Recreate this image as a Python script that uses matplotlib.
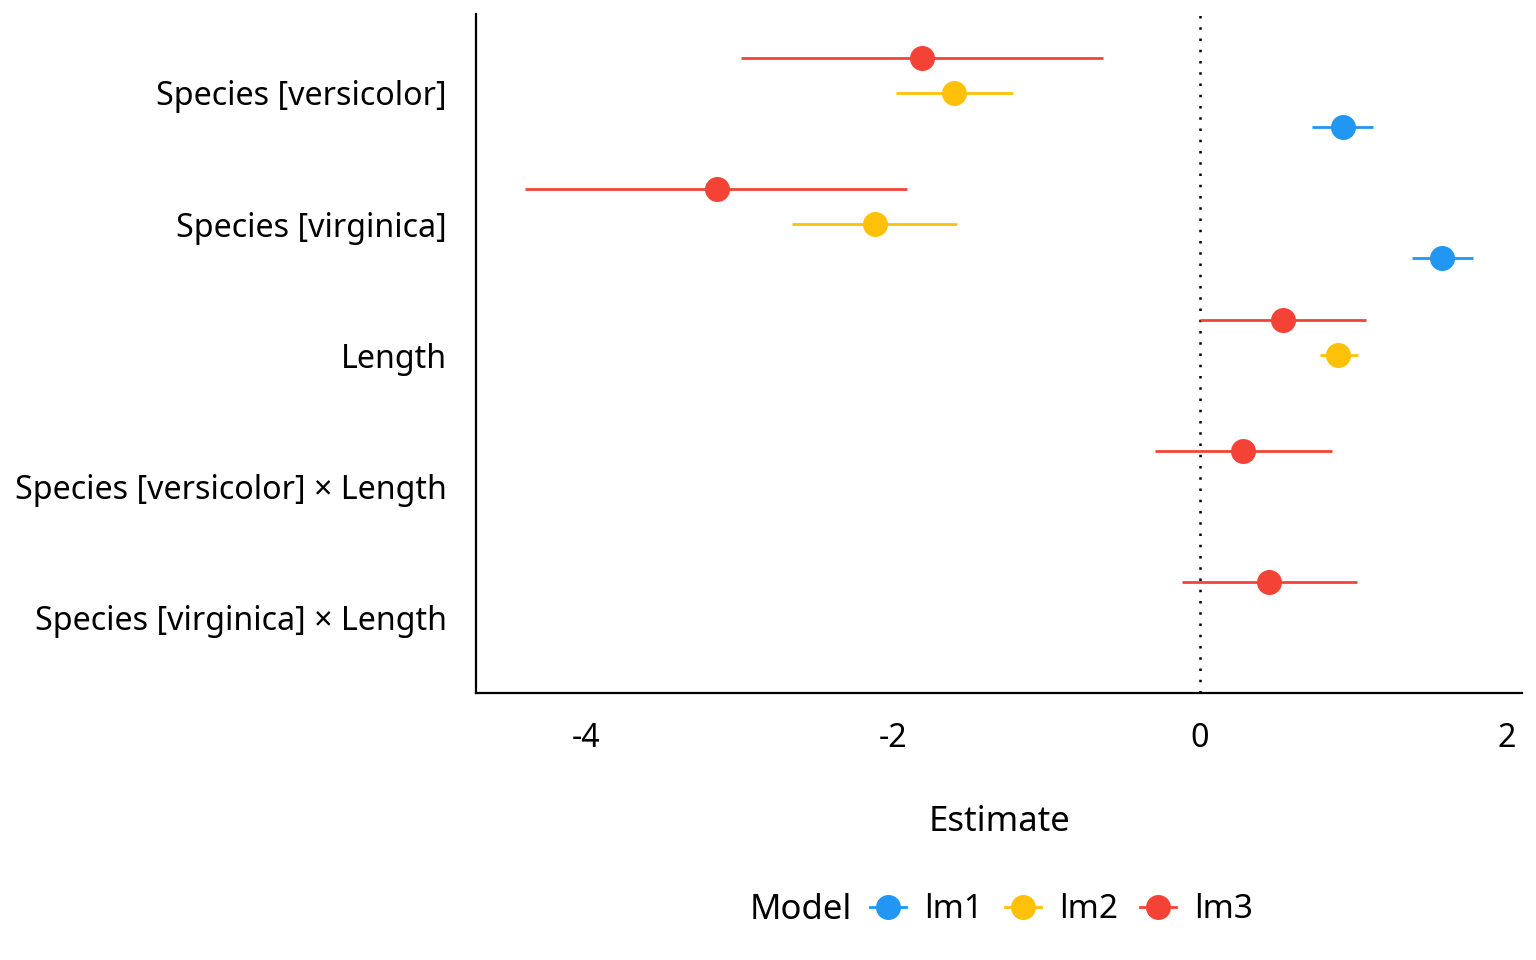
import matplotlib
matplotlib.use("Agg")
import matplotlib.pyplot as plt
from matplotlib.lines import Line2D

plt.rcParams['font.family'] = ['Noto Sans', 'DejaVu Sans']

# terms from top to bottom
terms = ["Species [versicolor]", "Species [virginica]", "Length",
         "Species [versicolor] × Length", "Species [virginica] × Length"]
models = ["lm1", "lm2", "lm3"]
colors = {"lm1": "#2196F3", "lm2": "#FFC107", "lm3": "#F44336"}

# estimate, conf.low, conf.high per term (None = term not in model)
lm1_est = [0.93, 1.58, None, None, None]
lm1_low = [0.73, 1.38, None, None, None]
lm1_high = [1.13, 1.78, None, None, None]

lm2_est = [-1.60, -2.12, 0.90, None, None]
lm2_low = [-1.98, -2.66, 0.78, None, None]
lm2_high = [-1.22, -1.58, 1.03, None, None]

lm3_est = [-1.81, -3.15, 0.54, 0.28, 0.45]
lm3_low = [-2.99, -4.40, 0.00, -0.29, -0.12]
lm3_high = [-0.63, -1.91, 1.08, 0.86, 1.02]

data = {
    "lm1": (lm1_est, lm1_low, lm1_high),
    "lm2": (lm2_est, lm2_low, lm2_high),
    "lm3": (lm3_est, lm3_low, lm3_high),
}
dodge = {"lm1": 0.262, "lm2": 0.0, "lm3": -0.265}

fig = plt.figure(figsize=(15.36, 9.6), dpi=100)
ax = fig.add_axes([476 / 1536, 1 - 693 / 960, 1046 / 1536, 679 / 960])

ax.axvline(0, color="black", lw=1.8, linestyle=(0, (1, 3.5)), zorder=1)

for m in models:
    est, low, high = data[m]
    for i in range(len(terms)):
        if est[i] is None:
            continue
        y = i + dodge[m]
        ax.plot([low[i], high[i]], [y, y], color=colors[m], lw=2, zorder=2,
                solid_capstyle="butt")
        ax.plot(est[i], y, "o", color=colors[m], markersize=18, zorder=3,
                markeredgewidth=0)

ax.set_yticks(range(len(terms)))
ax.set_yticklabels(terms)
ax.set_ylim(4.58, -0.603)
ax.set_xlim(-4.717, 2.098)
ax.set_xticks([-4, -2, 0, 2])
ax.set_xticklabels(["-4", "-2", "0", "2"])
ax.tick_params(axis="both", length=0, labelsize=23.2, pad=21)
ax.set_xlabel("Estimate", fontsize=25, labelpad=36)

for side in ["top", "right"]:
    ax.spines[side].set_visible(False)
for side in ["left", "bottom"]:
    ax.spines[side].set_linewidth(1.6)

handles = [Line2D([0], [0], color=colors[m], lw=2, marker="o", markersize=18,
                  markeredgewidth=0) for m in models]
fig.text(750 / 1536, 1 - 910 / 960, "Model", fontsize=25, va="center", ha="left")
fig.legend(handles, models, loc="center left", bbox_to_anchor=(870 / 1536, 1 - 910 / 960),
           ncol=3, frameon=False, fontsize=24, handlelength=1.08, handletextpad=0.55,
           columnspacing=0.65, borderaxespad=0, borderpad=0)

fig.savefig("out.png", dpi=100)
